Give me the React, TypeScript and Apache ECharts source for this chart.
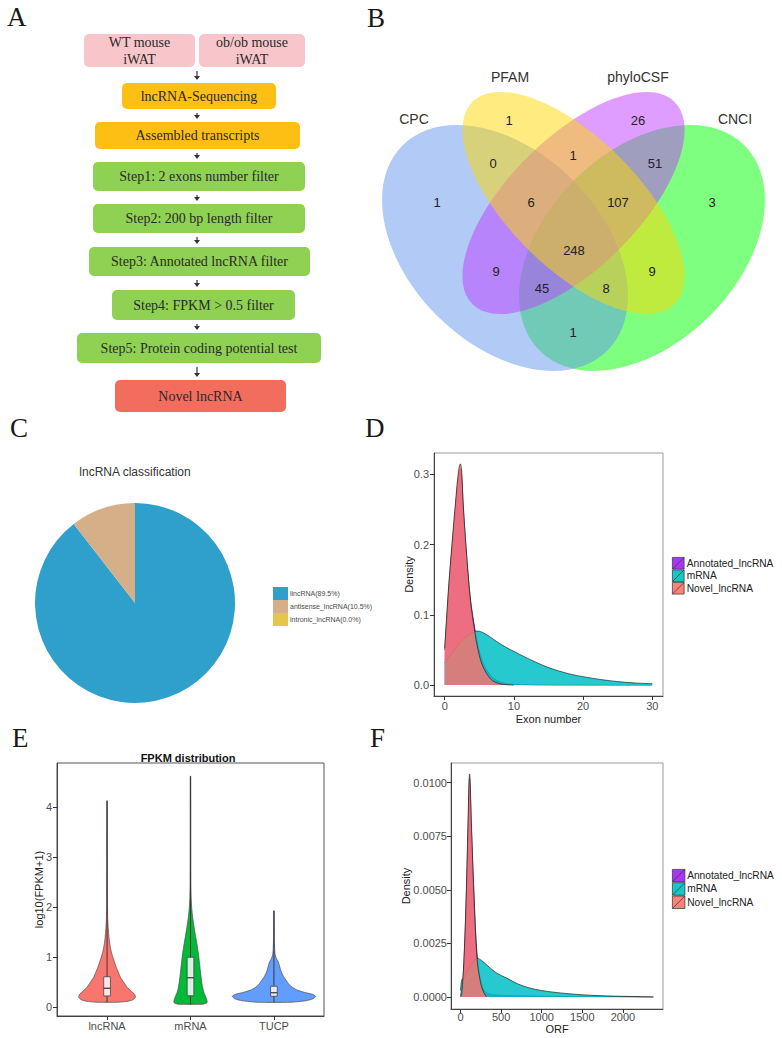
import React, { useEffect, useRef } from "react";
import * as echarts from "echarts";

// ---------- Panel A: flowchart ----------
const flowInputs = ["WT mouse\niWAT", "ob/ob mouse\niWAT"];
const flowSteps = [
  "lncRNA-Sequencing",
  "Assembled transcripts",
  "Step1: 2 exons number filter",
  "Step2: 200 bp length filter",
  "Step3: Annotated lncRNA filter",
  "Step4: FPKM > 0.5 filter",
  "Step5: Protein coding potential test",
  "Novel lncRNA",
];
const flowStepKinds = ["seq", "seq", "filter", "filter", "filter", "filter", "filter", "result"];
// layout (x1, x2, y1, y2)
const flowInputBoxes = [
  [84, 195, 34, 67],
  [199, 305, 34, 67],
];
const flowStepBoxes = [
  [122, 276, 83, 109],
  [95, 300, 122, 149],
  [93, 305, 162, 191],
  [93, 305, 204, 233],
  [89, 310, 247, 276],
  [112, 295, 290, 320],
  [77, 321, 333, 363],
  [115, 286, 380, 412],
];
const flowKindColor: Record<string, string> = {
  input: "#F8C6CA",
  seq: "#FDBF14",
  filter: "#8FD152",
  result: "#F26D5E",
};

// ---------- Panel B: Venn ----------
const vennSets = ["CPC", "PFAM", "phyloCSF", "CNCI"];
const vennRegions = [
  "CPC", "PFAM", "phyloCSF", "CNCI",
  "CPC&PFAM", "PFAM&phyloCSF", "phyloCSF&CNCI",
  "CPC&PFAM&phyloCSF", "PFAM&phyloCSF&CNCI", "ALL",
  "CPC&phyloCSF", "PFAM&CNCI", "CPC&phyloCSF&CNCI", "CPC&PFAM&CNCI", "CPC&CNCI",
];
const vennCounts = [1, 1, 26, 3, 0, 1, 51, 6, 107, 248, 9, 9, 45, 8, 1];
// layout
const vennRegionPos = [
  [437, 202], [509, 120], [638, 120], [712, 202],
  [493, 163], [573, 155], [655, 163],
  [531, 202], [618, 202], [574, 250],
  [496, 271], [652, 271], [542, 288], [606, 288], [573, 332],
];
const vennSetLabelPos = [[414, 119], [510, 77], [638, 77], [735, 119]];
const vennEllipses = [
  { cx: 505, cy: 248, rx: 145, ry: 96, rot: -Math.PI / 4 },
  { cx: 573.5, cy: 203, rx: 143, ry: 65, rot: -Math.PI / 4 },
  { cx: 573.5, cy: 203, rx: 143, ry: 65, rot: Math.PI / 4 },
  { cx: 642, cy: 248, rx: 145, ry: 96, rot: Math.PI / 4 },
];
const vennColors = ["#6495ED", "#FFD700", "#BF3EFF", "#00FF00"];
const vennDrawOrder = [3, 0, 2, 1];

// ---------- Panel C: pie ----------
const pieNames = ["lincRNA", "antisense_lncRNA", "intronic_lncRNA"];
const pieShares = [89.5, 10.5, 0.0];
const pieColors = ["#2F9FCB", "#D4AF88", "#E3C64A"];

// ---------- Panel D: exon number density ----------
const densNames = ["Annotated_lncRNA", "mRNA", "Novel_lncRNA"];
const densColors = ["#A020F0", "#00BFC4", "#F8766D"];
const exonAnnotated = [
  [0, 0.05], [0.3, 0.095], [0.6, 0.14], [1.0, 0.19], [1.6, 0.258], [2.0, 0.298], [2.26, 0.308],
  [2.45, 0.298], [2.64, 0.26], [3.1, 0.192], [3.7, 0.124], [4.33, 0.082], [4.8, 0.057],
  [5.5, 0.033], [6.7, 0.013], [7.9, 0.005], [9, 0.002], [11, 0.0008], [14, 0.0003], [20, 0.0001], [30, 0],
];
const exonMRNA = [
  [0, 0.032], [1, 0.045], [2, 0.058], [3, 0.068], [4, 0.075], [4.6, 0.077], [5.5, 0.075],
  [6.5, 0.069], [7.5, 0.062], [9, 0.053], [10, 0.048], [12, 0.038], [15, 0.025], [18, 0.016],
  [20, 0.012], [22.5, 0.008], [25, 0.005], [27.5, 0.003], [30, 0.002],
];
const exonNovel = [
  [0, 0.053], [0.3, 0.1], [0.6, 0.145], [1.0, 0.195], [1.6, 0.265], [2.0, 0.305], [2.26, 0.315],
  [2.45, 0.305], [2.64, 0.263], [3.1, 0.195], [3.7, 0.122], [4.33, 0.077], [4.8, 0.051],
  [5.5, 0.027], [6.7, 0.008], [7.9, 0.002], [9, 0.0005], [10, 0],
];
const exonTicks = [0, 10, 20, 30];
const exonDensTicks = [0, 0.1, 0.2, 0.3];

// ---------- Panel E: violin ----------
const violinCats = ["lncRNA", "mRNA", "TUCP"];
const violinColors = ["#F8766D", "#00BA38", "#619CFF"];
// [log10(FPKM+1), half width]
const violinLnc = [
  [0.1, 0.12], [0.12, 0.25], [0.15, 0.31], [0.2, 0.34], [0.26, 0.33], [0.32, 0.29], [0.4, 0.24],
  [0.5, 0.2], [0.6, 0.16], [0.7, 0.135], [0.8, 0.11], [0.9, 0.09], [1.0, 0.07], [1.1, 0.052],
  [1.2, 0.04], [1.3, 0.03], [1.4, 0.023], [1.5, 0.018], [1.6, 0.013], [1.8, 0.007], [2.2, 0.005],
  [3.0, 0.004], [4.13, 0.003],
];
const violinMRNA = [
  [0.06, 0.14], [0.08, 0.19], [0.11, 0.2], [0.15, 0.195], [0.2, 0.185], [0.3, 0.16], [0.4, 0.145],
  [0.5, 0.135], [0.7, 0.12], [1.0, 0.1], [1.2, 0.083], [1.4, 0.063], [1.6, 0.043], [1.8, 0.026],
  [2.0, 0.014], [2.2, 0.008], [2.5, 0.005], [3.5, 0.004], [4.62, 0.003],
];
const violinTUCP = [
  [0.1, 0.2], [0.13, 0.38], [0.17, 0.47], [0.22, 0.5], [0.26, 0.46], [0.3, 0.36], [0.35, 0.27],
  [0.4, 0.22], [0.46, 0.18], [0.53, 0.15], [0.6, 0.12], [0.68, 0.095], [0.75, 0.08], [0.82, 0.068],
  [0.88, 0.058], [0.93, 0.045], [0.98, 0.028], [1.05, 0.015], [1.15, 0.009], [1.3, 0.006],
  [1.5, 0.005], [1.93, 0.003],
];
const violinProfiles = [violinLnc, violinMRNA, violinTUCP];
// [q1, median, q3]
const violinBoxes = [
  [0.226, 0.38, 0.61],
  [0.23, 0.59, 1.0],
  [0.22, 0.29, 0.42],
];
const fpkmTicks = [0, 1, 2, 3, 4];

// ---------- Panel F: ORF density ----------
const orfAnnotated = [
  [0, 0.0001], [20, 0.0004], [45, 0.0019], [72, 0.0049], [92, 0.0078], [111, 0.0102], [134, 0.0078],
  [164, 0.0049], [205, 0.0019], [260, 0.0006], [320, 0.0002], [500, 0.00008], [1000, 0.00004],
  [1500, 0.00002], [2000, 0.00001], [2376, 0],
];
const orfMRNA = [
  [0, 0.0003], [15, 0.0008], [40, 0.0009], [100, 0.0013], [150, 0.0016], [205, 0.0018], [260, 0.0017],
  [350, 0.0014], [450, 0.0011], [570, 0.00088], [700, 0.00062], [850, 0.00042], [1000, 0.0003],
  [1200, 0.0002], [1400, 0.00013], [1600, 0.00008], [1900, 0.00004], [2150, 0.00002], [2376, 0],
];
const orfNovel = [
  [0, 0], [15, 0.0002], [41, 0.0017], [70, 0.0048], [90, 0.0079], [111, 0.0104], [135, 0.0079],
  [164, 0.0048], [205, 0.0017], [250, 0.0006], [287, 0.0002], [320, 0],
];
const orfTicks = [0, 500, 1000, 1500, 2000];
const orfDensTicks = [0, 0.0025, 0.005, 0.0075, 0.01];

const SERIF = '"Liberation Serif", "Times New Roman", serif';
const SANS = '"Liberation Sans", Arial, sans-serif';

function buildGraphics() {
  const els: any[] = [];
  // panel letters
  const letters = [
    ["A", 7, 17], ["B", 367, 18], ["C", 10, 428], ["D", 365, 428], ["E", 12, 738], ["F", 370, 738],
  ];
  letters.forEach(([t, x, y]) =>
    els.push({
      type: "text", silent: true,
      style: { text: t, x, y, fill: "#1a1a1a", font: `27px ${SERIF}`, align: "left", verticalAlign: "middle" },
    })
  );
  // flowchart
  const box = (b: number[], color: string, label: string) => {
    els.push({
      type: "rect", silent: true,
      shape: { x: b[0], y: b[2], width: b[1] - b[0], height: b[3] - b[2], r: 5 },
      style: { fill: color },
    });
    els.push({
      type: "text", silent: true,
      style: {
        text: label, x: (b[0] + b[1]) / 2, y: (b[2] + b[3]) / 2, fill: "#2a2a2a",
        font: `14px ${SERIF}`, align: "center", verticalAlign: "middle", lineHeight: 17,
      },
    });
  };
  flowInputs.forEach((t, i) => box(flowInputBoxes[i], flowKindColor.input, t));
  flowSteps.forEach((t, i) => box(flowStepBoxes[i], flowKindColor[flowStepKinds[i]], t));
  const arrowX = 197;
  const arrow = (yTop: number, yBot: number) => {
    const y1 = yTop + 4;
    const y2 = yBot - 3;
    els.push({ type: "line", silent: true, shape: { x1: arrowX, y1, x2: arrowX, y2: y2 - 3 }, style: { stroke: "#333", lineWidth: 1.2 } });
    els.push({
      type: "polygon", silent: true,
      shape: { points: [[arrowX - 3, y2 - 4], [arrowX + 3, y2 - 4], [arrowX, y2]] },
      style: { fill: "#333" },
    });
  };
  arrow(67, flowStepBoxes[0][2]);
  for (let i = 1; i < flowStepBoxes.length; i++) arrow(flowStepBoxes[i - 1][3], flowStepBoxes[i][2]);

  // venn
  vennDrawOrder.forEach((k) => {
    const e = vennEllipses[k];
    els.push({
      type: "ellipse", silent: true, x: e.cx, y: e.cy, rotation: e.rot,
      shape: { cx: 0, cy: 0, rx: e.rx, ry: e.ry },
      style: { fill: vennColors[k], opacity: 0.5 },
    });
  });
  vennSets.forEach((s, i) =>
    els.push({
      type: "text", silent: true,
      style: { text: s, x: vennSetLabelPos[i][0], y: vennSetLabelPos[i][1], fill: "#333", font: `14px ${SANS}`, align: "center", verticalAlign: "middle" },
    })
  );
  vennCounts.forEach((c, i) =>
    els.push({
      type: "text", silent: true,
      style: { text: String(c), x: vennRegionPos[i][0], y: vennRegionPos[i][1], fill: "#222", font: `13px ${SANS}`, align: "center", verticalAlign: "middle" },
    })
  );

  // titles
  els.push({
    type: "text", silent: true,
    style: { text: "lncRNA classification", x: 135, y: 472, fill: "#333", font: `12px ${SANS}`, align: "center", verticalAlign: "middle" },
  });
  els.push({
    type: "text", silent: true,
    style: { text: "FPKM distribution", x: 188, y: 758, fill: "#111", font: `bold 11px ${SANS}`, align: "center", verticalAlign: "middle" },
  });
  return els;
}

function axisCommon(ticks: number[], fmt: (v: number) => string, margin: number, lineColor: string) {
  return {
    splitLine: { show: false },
    nameMoveOverlap: false,
    axisLine: { show: true, onZero: false, lineStyle: { color: lineColor, width: 1 } },
    axisTick: { show: true, customValues: ticks, length: 4, lineStyle: { color: "#333" } },
    axisLabel: { customValues: ticks, formatter: fmt, fontSize: 11, color: "#4d4d4d", margin, fontFamily: SANS },
    nameTextStyle: { fontSize: 11, color: "#222", fontFamily: SANS },
  };
}

function densitySeries(axisIndex: number, sets: number[][][]) {
  return sets.map((d, k) => ({
    type: "line",
    name: densNames[k],
    xAxisIndex: axisIndex,
    yAxisIndex: axisIndex,
    data: d,
    smooth: 0.35,
    symbol: "none",
    showSymbol: false,
    silent: true,
    z: 2 + k,
    itemStyle: { color: densColors[k] },
    lineStyle: { color: "#222", width: 0.7 },
    areaStyle: { color: densColors[k], opacity: 0.85 },
  }));
}

function densityLegend(left: number, top: number, h: number) {
  return {
    data: densNames,
    orient: "vertical",
    left,
    top,
    padding: 0,
    itemWidth: 13,
    itemHeight: h,
    itemGap: 0,
    selectedMode: false,
    icon: "path://M0,0L10,0L10,10L0,10Z M0,10L10,0",
    itemStyle: { borderColor: "#333", borderWidth: 0.8, opacity: 0.9 },
    textStyle: { fontSize: 10.2, color: "#222", lineHeight: h, fontFamily: SANS, padding: [0, 0, 0, -3] },
  };
}

const pieTotal = pieShares.reduce((a, b) => a + b, 0);

const option: any = {
  animation: false,
  textStyle: { fontFamily: SANS },
  graphic: buildGraphics(),
  grid: [
    { left: 434, top: 453, width: 229, height: 243, show: true, borderColor: "#9a9a9a", borderWidth: 1, backgroundColor: "transparent" },
    { left: 57, top: 763, width: 267, height: 253, show: true, borderColor: "#555", borderWidth: 1, backgroundColor: "transparent" },
    { left: 451, top: 763, width: 212, height: 246, show: true, borderColor: "#9a9a9a", borderWidth: 1, backgroundColor: "transparent" },
  ],
  xAxis: [
    {
      gridIndex: 0, type: "value", min: -1.55, max: 31.55,
      name: "Exon number", nameLocation: "middle", nameGap: 17,
      ...axisCommon(exonTicks, (v) => String(v), 4, "#444"),
    },
    {
      gridIndex: 1, type: "value", min: 0.4, max: 3.6,
      ...axisCommon([1, 2, 3], (v) => violinCats[Math.round(v) - 1] || "", 4, "#444"),
    },
    {
      gridIndex: 2, type: "value", min: -118, max: 2494,
      name: "ORF", nameLocation: "middle", nameGap: 14,
      ...axisCommon(orfTicks, (v) => String(v), 2, "#444"),
    },
  ],
  yAxis: [
    {
      gridIndex: 0, type: "value", min: -0.0155, max: 0.3305,
      name: "Density", nameLocation: "middle", nameGap: 20,
      ...axisCommon(exonDensTicks, (v) => v.toFixed(1), 5, "#444"),
    },
    {
      gridIndex: 1, type: "value", min: -0.175, max: 4.885,
      name: "log10(FPKM+1)", nameLocation: "middle", nameGap: 12.5,
      ...axisCommon(fpkmTicks, (v) => String(v), 5, "#444"),
    },
    {
      gridIndex: 2, type: "value", min: -0.00056, max: 0.01091,
      name: "Density", nameLocation: "middle", nameGap: 39.5,
      ...axisCommon(orfDensTicks, (v) => v.toFixed(4), 4, "#444"),
    },
  ],
  legend: [
    {
      data: pieNames,
      orient: "vertical",
      left: 273,
      top: 587,
      padding: 0,
      itemWidth: 15,
      itemHeight: 13,
      itemGap: 0,
      icon: "rect",
      selectedMode: false,
      formatter: (name: string) => {
        const i = pieNames.indexOf(name);
        return `${name}(${((pieShares[i] / pieTotal) * 100).toFixed(1)}%)`;
      },
      textStyle: { fontSize: 7, color: "#4a4a4a", lineHeight: 13, fontFamily: SANS, padding: [0, 0, 0, -3] },
    },
    densityLegend(672, 557, 11.7),
    densityLegend(672, 869, 12.5),
  ],
  series: [
    {
      type: "pie",
      center: [135, 603],
      radius: 100,
      startAngle: 90,
      clockwise: true,
      silent: true,
      label: { show: false },
      labelLine: { show: false },
      data: pieNames.map((n, i) => ({ name: n, value: pieShares[i], itemStyle: { color: pieColors[i] } })),
    },
    ...densitySeries(0, [exonAnnotated, exonMRNA, exonNovel]),
    {
      type: "custom",
      xAxisIndex: 1,
      yAxisIndex: 1,
      silent: true,
      data: violinCats.map((_, i) => [i + 1, violinProfiles[i][violinProfiles[i].length - 1][0]]),
      encode: { x: 0, y: 1 },
      renderItem: (params: any, api: any) => {
        const i = params.dataIndex;
        const cx = i + 1;
        const prof = violinProfiles[i];
        const right = prof.map(([y, w]) => api.coord([cx + w, y]));
        const left = prof.slice().reverse().map(([y, w]) => api.coord([cx - w, y]));
        const pts = right.concat(left);
        const [q1, med, q3] = violinBoxes[i];
        const bh = 0.04;
        const p1 = api.coord([cx - bh, q3]);
        const p2 = api.coord([cx + bh, q1]);
        const m1 = api.coord([cx - bh, med]);
        const m2 = api.coord([cx + bh, med]);
        const bot = api.coord([cx, prof[0][0]]);
        const top = api.coord([cx, prof[prof.length - 1][0]]);
        return {
          type: "group",
          children: [
            { type: "polygon", shape: { points: pts, smooth: 0.2 }, style: { fill: violinColors[i], stroke: "#4a4a4a", lineWidth: 0.7 } },
            { type: "line", shape: { x1: bot[0], y1: bot[1], x2: top[0], y2: top[1] }, style: { stroke: "#3a3a3a", lineWidth: 1 } },
            { type: "rect", shape: { x: p1[0], y: p1[1], width: p2[0] - p1[0], height: p2[1] - p1[1] }, style: { fill: "rgba(255,255,255,0.85)", stroke: "#444", lineWidth: 0.8 } },
            { type: "line", shape: { x1: m1[0], y1: m1[1], x2: m2[0], y2: m2[1] }, style: { stroke: "#333", lineWidth: 1.2 } },
          ],
        };
      },
    },
    ...densitySeries(2, [orfAnnotated, orfMRNA, orfNovel]),
  ],
};

export default function App() {
  const ref = useRef<HTMLDivElement>(null);
  useEffect(() => {
    const chart = echarts.init(ref.current!, null, { renderer: "svg" });
    chart.setOption(option);
    return () => chart.dispose();
  }, []);
  return (
    <div
      ref={ref}
      style={{ position: "absolute", left: 0, top: 0, width: 782, height: 1038, background: "#fff" }}
    />
  );
}
